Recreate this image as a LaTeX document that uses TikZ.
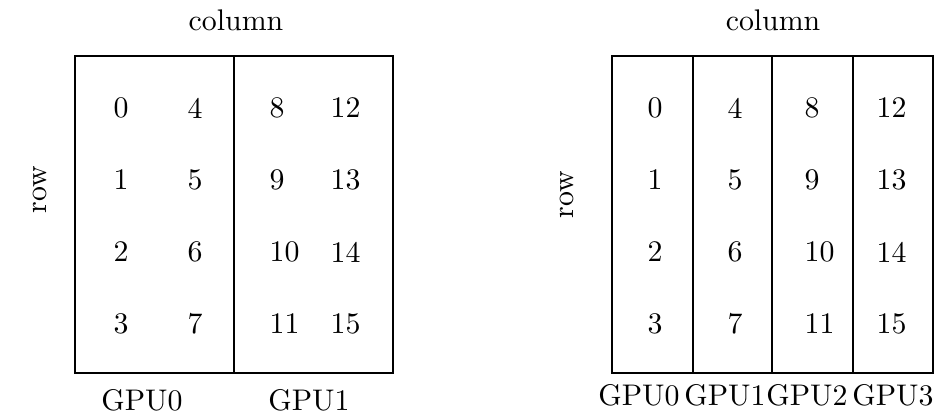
\documentclass[tikz,border=0pt]{standalone}
\usepackage{tikz}
\usetikzlibrary{positioning}

\begin{document}
\begin{tikzpicture}[x=0.335pt,y=-0.335pt,
  cell/.style={anchor=west,inner sep=0pt},
  gpu/.style={inner sep=0pt},
  axis/.style={inner sep=0pt},
  frame/.style={line width=0.7pt},
  split/.style={line width=0.45pt}]
  \useasboundingbox (0,0) rectangle (936,416);
  % left: split over two GPUs
  \node[axis] (colL) at (236,20) {column};
  \node[axis,rotate=90] (rowL) at (40,190) {row};
  \coordinate (L-nw) at (75,56);
  \coordinate (L-se) at (393,373);
  \draw[frame] (L-nw) rectangle (L-se);
  \draw[split] (234,56) -- (234,373);
  \foreach \c/\xx in {0/113,1/187,2/269,3/330}{
    \foreach \r in {0,...,3}{
      \pgfmathtruncatemacro{\num}{4*\c+\r}
      \node[cell] (L-\c-\r) at (\xx,108+72*\r) {\num};
    }
  }
  \node[gpu] (gL0) at (142,400) {GPU0};
  \node[gpu] (gL1) at (309,400) {GPU1};
  % right: split over four GPUs
  \node[axis] (colR) at (773,20) {column};
  \node[axis,rotate=90] (rowR) at (567,195) {row};
  \coordinate (R-nw) at (612,56);
  \coordinate (R-se) at (933,373);
  \draw[frame] (R-nw) rectangle (R-se);
  \foreach \xx in {693,772,853}
    \draw[split] (\xx,56) -- (\xx,373);
  \foreach \c/\xx in {0/647,1/727,2/804,3/876}{
    \foreach \r in {0,...,3}{
      \pgfmathtruncatemacro{\num}{4*\c+\r}
      \node[cell] (R-\c-\r) at (\xx,108+72*\r) {\num};
    }
  }
  \foreach \g/\xx in {0/639,1/725,2/807,3/893}
    \node[gpu] (gR\g) at (\xx,395) {GPU\g};
\end{tikzpicture}
\end{document}
